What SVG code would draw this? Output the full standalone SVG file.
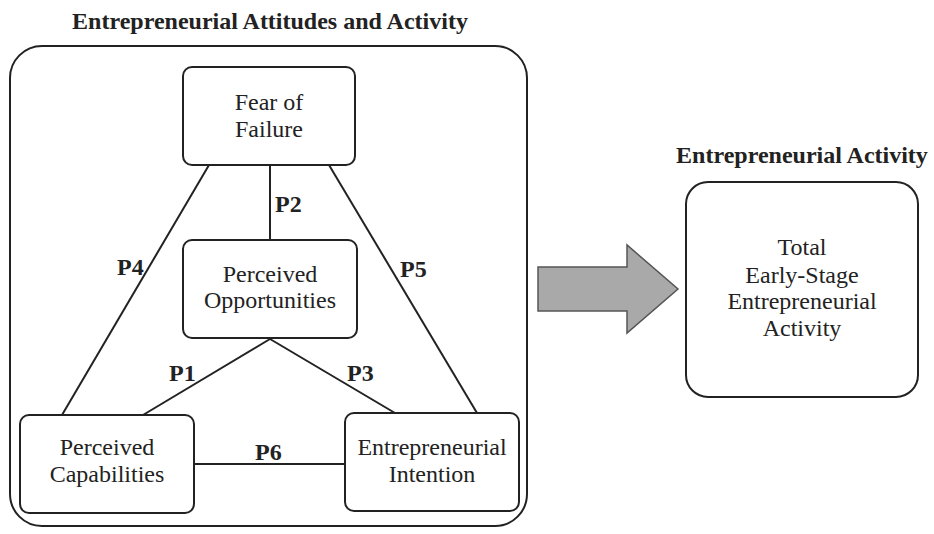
<svg xmlns="http://www.w3.org/2000/svg" width="934" height="534" viewBox="0 0 934 534">
<style>
.box{fill:#fff;stroke:#222;stroke-width:2}
.frame{fill:none;stroke:#222;stroke-width:2}
.ln{stroke:#222;stroke-width:2;fill:none}
.t{font-family:"Liberation Serif","Times New Roman",serif;font-size:24px;fill:#222;text-anchor:middle}
.b{font-family:"Liberation Serif","Times New Roman",serif;font-size:24px;font-weight:bold;fill:#222}
.title{font-family:"Liberation Serif","Times New Roman",serif;font-size:24px;font-weight:bold;fill:#222;text-anchor:middle}
</style>
<rect width="934" height="534" fill="#fff"/>
<text class="title" x="270" y="29">Entrepreneurial Attitudes and Activity</text>
<rect class="frame" x="10" y="46" width="517" height="480" rx="32"/>
<g id="connectors">
<line class="ln" x1="270" y1="165" x2="270" y2="240"/>
<line class="ln" x1="209" y1="165" x2="62" y2="415"/>
<line class="ln" x1="329" y1="165" x2="477" y2="413"/>
<line class="ln" x1="270" y1="339" x2="143" y2="415"/>
<line class="ln" x1="270" y1="339" x2="395" y2="413"/>
<line class="ln" x1="194" y1="464" x2="345" y2="464"/>
<text class="b" x="275" y="212">P2</text>
<text class="b" x="117" y="275">P4</text>
<text class="b" x="400" y="277">P5</text>
<text class="b" x="169" y="381">P1</text>
<text class="b" x="347" y="381">P3</text>
<text class="b" x="255" y="460">P6</text>
</g>
<g id="fear">
<rect class="box" x="183" y="67" width="172" height="98" rx="9"/>
<text class="t" x="269" y="110">Fear of</text>
<text class="t" x="269" y="137">Failure</text>
</g>
<g id="opportunities">
<rect class="box" x="183" y="240" width="174" height="98" rx="9"/>
<text class="t" x="270" y="282">Perceived</text>
<text class="t" x="270" y="308">Opportunities</text>
</g>
<g id="capabilities">
<rect class="box" x="20" y="415" width="174" height="98" rx="9"/>
<text class="t" x="107" y="455">Perceived</text>
<text class="t" x="107" y="482">Capabilities</text>
</g>
<g id="intention">
<rect class="box" x="345" y="413" width="174" height="98" rx="9"/>
<text class="t" x="432" y="455">Entrepreneurial</text>
<text class="t" x="432" y="482">Intention</text>
</g>
<g id="arrow">
<polygon points="538,267 627,267 627,245 678,289 627,333 627,311 538,311" fill="#a9a9a9" stroke="#555" stroke-width="1.5"/>
</g>
<g id="tea">
<text class="title" x="802" y="163">Entrepreneurial Activity</text>
<rect class="box" x="686" y="182" width="232" height="215" rx="22"/>
<text class="t" x="802" y="255">Total</text>
<text class="t" x="802" y="283">Early-Stage</text>
<text class="t" x="802" y="309">Entrepreneurial</text>
<text class="t" x="802" y="336">Activity</text>
</g>
</svg>
